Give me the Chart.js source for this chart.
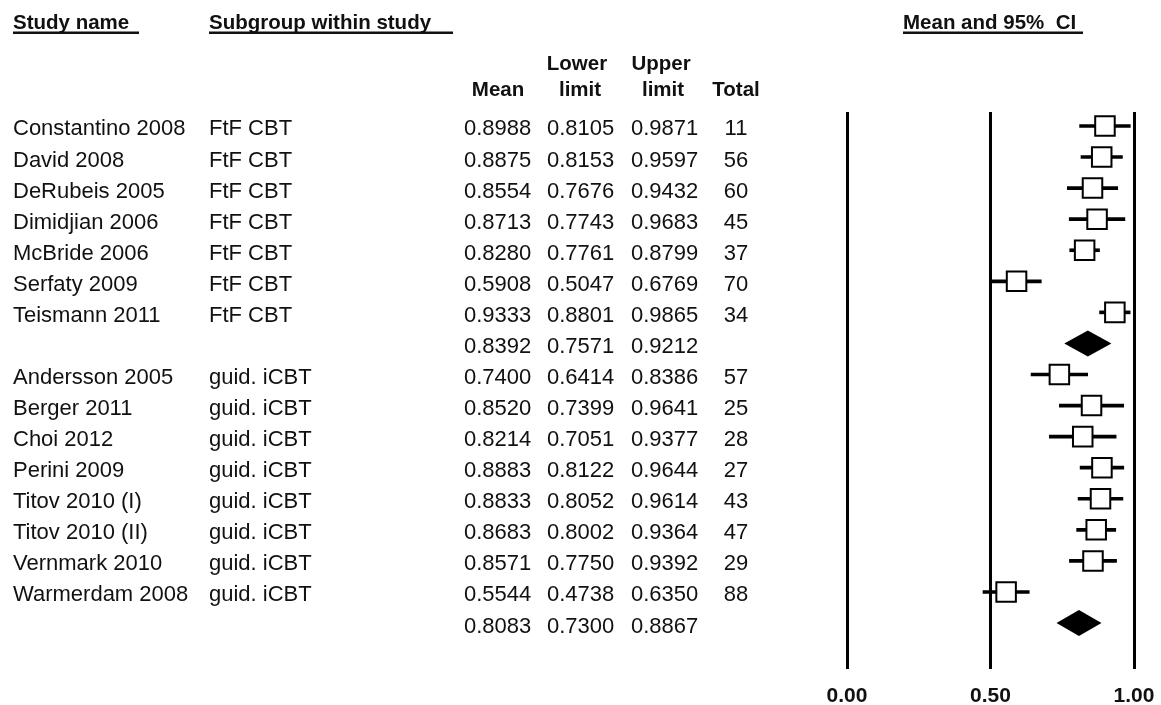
<!DOCTYPE html>
<html>
<head>
<meta charset="utf-8">
<script src="https://cdn.jsdelivr.net/npm/chart.js@4.4.0/dist/chart.umd.min.js"></script>
<style>
  html, body { margin: 0; padding: 0; background: #fff; }
</style>
</head>
<body>
<canvas id="forest" width="1161" height="705"></canvas>
<script>
// one entry per row, summary rows have no name / total
var studyNames = ['Constantino 2008', 'David 2008', 'DeRubeis 2005', 'Dimidjian 2006', 'McBride 2006',
  'Serfaty 2009', 'Teismann 2011', '',
  'Andersson 2005', 'Berger 2011', 'Choi 2012', 'Perini 2009', 'Titov 2010 (I)', 'Titov 2010 (II)',
  'Vernmark 2010', 'Warmerdam 2008', ''];
var subgroups = ['FtF CBT', 'FtF CBT', 'FtF CBT', 'FtF CBT', 'FtF CBT', 'FtF CBT', 'FtF CBT', '',
  'guid. iCBT', 'guid. iCBT', 'guid. iCBT', 'guid. iCBT', 'guid. iCBT', 'guid. iCBT', 'guid. iCBT', 'guid. iCBT', ''];
var means = [0.8988, 0.8875, 0.8554, 0.8713, 0.8280, 0.5908, 0.9333, 0.8392,
  0.7400, 0.8520, 0.8214, 0.8883, 0.8833, 0.8683, 0.8571, 0.5544, 0.8083];
var lowers = [0.8105, 0.8153, 0.7676, 0.7743, 0.7761, 0.5047, 0.8801, 0.7571,
  0.6414, 0.7399, 0.7051, 0.8122, 0.8052, 0.8002, 0.7750, 0.4738, 0.7300];
var uppers = [0.9871, 0.9597, 0.9432, 0.9683, 0.8799, 0.6769, 0.9865, 0.9212,
  0.8386, 0.9641, 0.9377, 0.9644, 0.9614, 0.9364, 0.9392, 0.6350, 0.8867];
var totals = [11, 56, 60, 45, 37, 70, 34, null, 57, 25, 28, 27, 43, 47, 29, 88, null];
var summaryRows = [7, 16];
var xTicks = [0, 0.5, 1];

var FONT = '"Liberation Sans", Arial, sans-serif';

var ciData = [];
var pointData = [];
for (var i = 0; i < means.length; i++) {
  if (summaryRows.indexOf(i) >= 0) continue;
  ciData.push({ x: [lowers[i], uppers[i]], y: i });
  pointData.push({ x: means[i], y: i });
}

function underlined(ctx, text, x, y, x2) {
  ctx.fillText(text, x, y);
  ctx.fillRect(x, y + 3, x2 - x, 2.5);
}

// summary diamonds
var diamondPlugin = {
  id: 'diamonds',
  afterDatasetsDraw: function(chart) {
    var ctx = chart.ctx, xs = chart.scales.x, ys = chart.scales.y;
    ctx.save();
    ctx.fillStyle = '#000';
    summaryRows.forEach(function(r) {
      ctx.beginPath();
      ctx.moveTo(xs.getPixelForValue(lowers[r]), ys.getPixelForValue(r));
      ctx.lineTo(xs.getPixelForValue(means[r]), ys.getPixelForValue(r - 0.42));
      ctx.lineTo(xs.getPixelForValue(uppers[r]), ys.getPixelForValue(r));
      ctx.lineTo(xs.getPixelForValue(means[r]), ys.getPixelForValue(r + 0.42));
      ctx.closePath();
      ctx.fill();
    });
    ctx.restore();
  }
};

// left-hand table
var tablePlugin = {
  id: 'studyTable',
  afterDraw: function(chart) {
    var ctx = chart.ctx, ys = chart.scales.y;
    ctx.save();
    ctx.fillStyle = '#111';
    ctx.textBaseline = 'alphabetic';
    ctx.font = 'bold 20.5px ' + FONT;
    ctx.textAlign = 'left';
    underlined(ctx, 'Study name', 13, 28.5, 139);
    underlined(ctx, 'Subgroup within study', 209, 28.5, 453);
    underlined(ctx, 'Mean and 95%  CI', 903, 28.5, 1083);
    ctx.textAlign = 'center';
    ctx.fillText('Lower', 577, 69.5);
    ctx.fillText('Upper', 661, 69.5);
    ctx.fillText('Mean', 498, 95.5);
    ctx.fillText('limit', 580, 95.5);
    ctx.fillText('limit', 663, 95.5);
    ctx.fillText('Total', 736, 95.5);

    ctx.font = '22px ' + FONT;
    for (var i = 0; i < means.length; i++) {
      var py = ys.getPixelForValue(i) + 9.5;
      ctx.textAlign = 'left';
      ctx.fillText(studyNames[i], 13, py);
      ctx.fillText(subgroups[i], 209, py);
      ctx.fillText(means[i].toFixed(4), 464, py);
      ctx.fillText(lowers[i].toFixed(4), 547, py);
      ctx.fillText(uppers[i].toFixed(4), 631, py);
      if (totals[i] !== null) {
        ctx.textAlign = 'center';
        ctx.fillText(String(totals[i]), 736, py);
      }
    }
    ctx.restore();
  }
};

var ctx = document.getElementById('forest').getContext('2d');
var forest = new Chart(ctx, {
  type: 'scatter',
  data: {
    datasets: [{
      type: 'scatter',
      data: pointData,
      pointStyle: 'rect',
      pointRadius: 13.8,
      pointHoverRadius: 13.8,
      backgroundColor: '#fff',
      borderColor: '#000',
      borderWidth: 2,
      order: 0
    }, {
      type: 'bar',
      indexAxis: 'y',
      data: ciData,
      barThickness: 3,
      backgroundColor: '#000',
      borderWidth: 0,
      order: 1
    }]
  },
  options: {
    responsive: false,
    animation: false,
    events: [],
    layout: { padding: { left: 847, right: 27, top: 112, bottom: 0 } },
    plugins: { legend: { display: false }, tooltip: { enabled: false } },
    scales: {
      x: {
        type: 'linear',
        position: 'bottom',
        min: 0,
        max: 1,
        offset: false,
        afterBuildTicks: function(axis) {
          axis.ticks = xTicks.map(function(v) { return { value: v }; });
        },
        afterFit: function(axis) {
          // labels may hang over the plot edges; keep the axis short
          axis.height = 36;
          axis.paddingLeft = 0;
          axis.paddingRight = 0;
        },
        grid: { color: '#000', lineWidth: 3, drawTicks: false, offset: false },
        border: { display: false },
        ticks: {
          padding: 17,
          color: '#111',
          font: { family: FONT, size: 21, weight: 'bold', lineHeight: 1 },
          callback: function(v) { return Number(v).toFixed(2); }
        }
      },
      y: {
        type: 'linear',
        reverse: true,
        offset: false,
        min: -0.45,
        max: 17.48,
        display: false
      }
    }
  },
  plugins: [diamondPlugin, tablePlugin]
});
</script>
</body>
</html>
